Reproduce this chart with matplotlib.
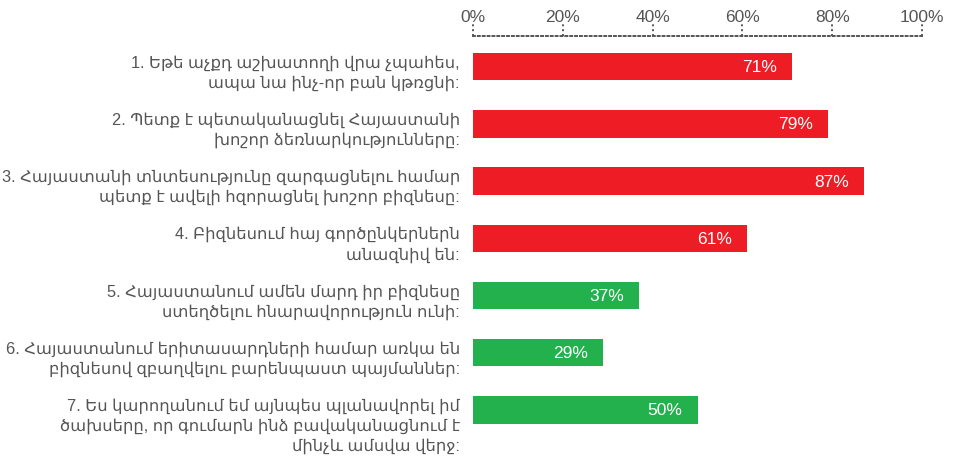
import matplotlib.pyplot as plt
from matplotlib.transforms import blended_transform_factory

plt.rcParams['font.family'] = ['Liberation Sans', 'DejaVu Sans']

# survey statements and share of agreement (%)
labels = [
    "1. Եթե աչքդ աշխատողի վրա չպահես,\nապա նա ինչ-որ բան կթռցնի:",
    "2. Պետք է պետականացնել Հայաստանի\nխոշոր ձեռնարկությունները:",
    "3. Հայաստանի տնտեսությունը զարգացնելու համար\nպետք է ավելի հզորացնել խոշոր բիզնեսը:",
    "4. Բիզնեսում հայ գործընկերներն\nանազնիվ են:",
    "5. Հայաստանում ամեն մարդ իր բիզնեսը\nստեղծելու հնարավորություն ունի:",
    "6. Հայաստանում երիտասարդների համար առկա են\nբիզնեսով զբաղվելու բարենպաստ պայմաններ:",
    "7. Ես կարողանում եմ այնպես պլանավորել իմ\nծախսերը, որ գումարն ինձ բավականացնում է\nմինչև ամսվա վերջ:",
]
values = [71, 79, 87, 61, 37, 29, 50]
colors = ['#ee1c25'] * 4 + ['#22b14c'] * 3
ticks = [0, 20, 40, 60, 80, 100]

grey = '#555555'

fig = plt.figure(figsize=(9.69, 4.64), dpi=100)
ax = fig.add_axes([473 / 969, 0.0526, (922 - 473) / 969, 0.920 - 0.0526])

ypos = list(range(len(values)))
ax.barh(ypos, values, height=0.48, color=colors)
ax.set_xlim(0, 100)
ax.set_ylim(6.5, -0.533)

for y, v in zip(ypos, values):
    ax.annotate(f"{v}%", xy=(v, y), xytext=(-15, 0), textcoords='offset pixels',
                ha='right', va='center', color='white', fontsize=12.5)

for y, lab in zip(ypos, labels):
    ax.annotate(lab, xy=(0, y - 0.22), xytext=(-13, 0), textcoords='offset pixels',
                ha='right', va='top', color=grey, fontsize=11.8, linespacing=1.35,
                annotation_clip=False)

for s in ['right', 'bottom', 'left']:
    ax.spines[s].set_visible(False)
ax.spines['top'].set_linestyle((0, (1, 1.5)))
ax.spines['top'].set_color(grey)
ax.spines['top'].set_linewidth(1.4)

ax.set_yticks([])
ax.xaxis.tick_top()
ax.set_xticks(ticks)
ax.set_xticklabels([f"{t}%" for t in ticks])
ax.tick_params(axis='x', length=0, pad=9, labelsize=12.5, labelcolor=grey)

tr = blended_transform_factory(ax.transData, ax.transAxes)
for t in ticks:
    ax.plot([t, t], [1.0, 1.032], transform=tr, color=grey, lw=1.4,
            linestyle=(0, (1, 1.5)), clip_on=False)

fig.savefig('out.png', dpi=100)
